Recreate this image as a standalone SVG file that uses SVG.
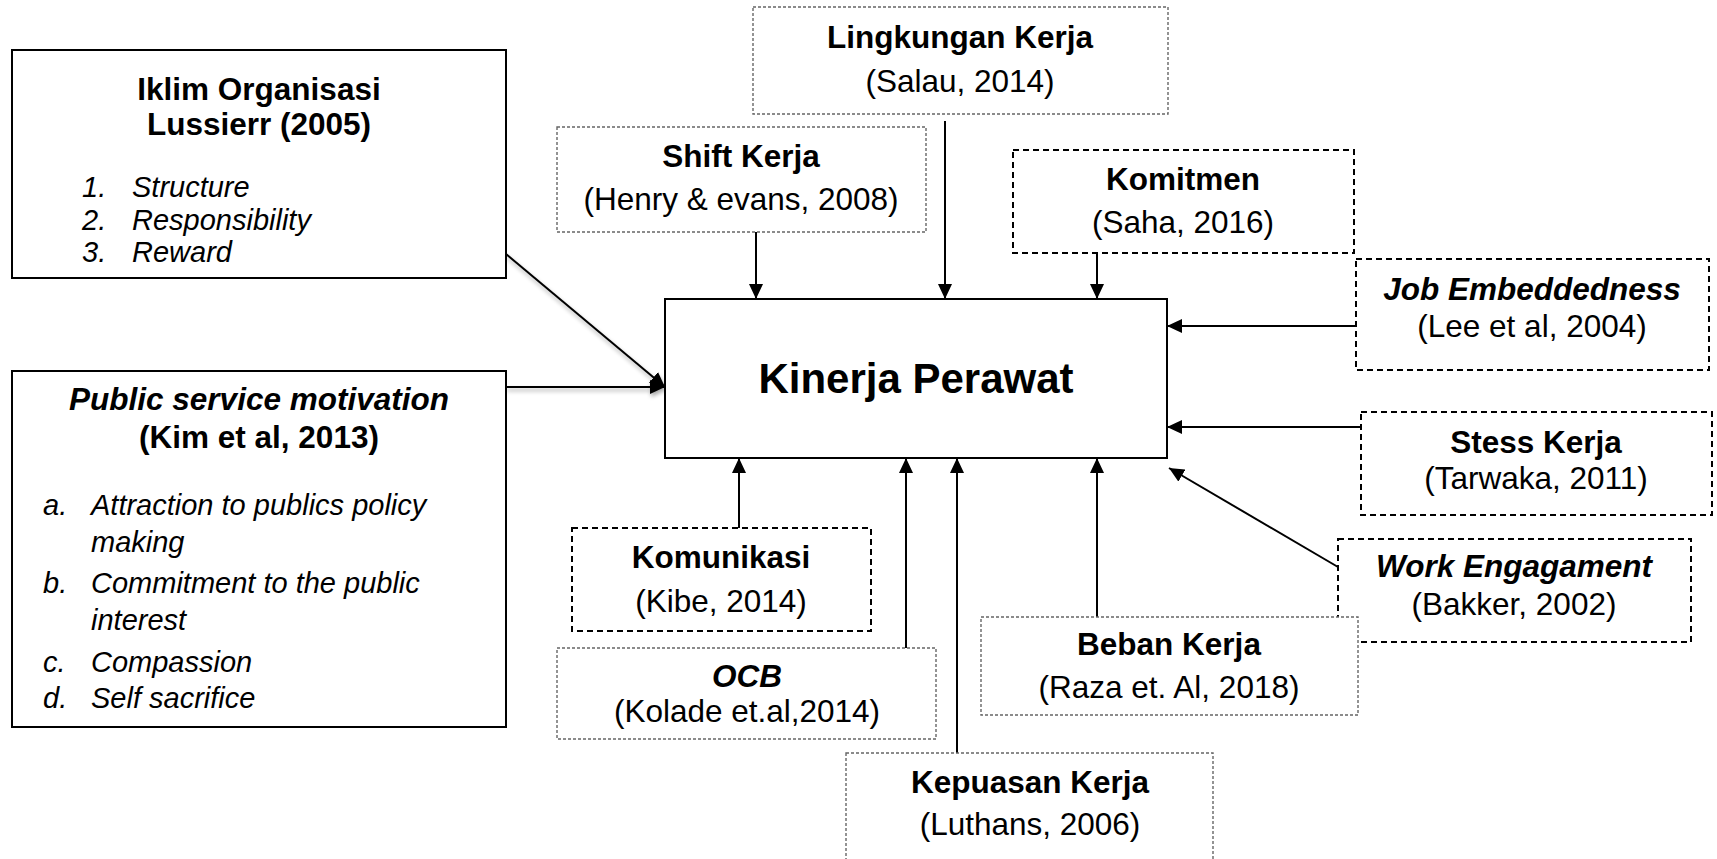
<svg xmlns="http://www.w3.org/2000/svg" width="1717" height="859" viewBox="0 0 1717 859">
<defs>
<marker id="ah" markerUnits="userSpaceOnUse" markerWidth="16" markerHeight="14" refX="15" refY="7" orient="auto">
<path d="M0,0 L15,7 L0,14 z" fill="#000"/>
</marker>
<filter id="sh" x="-10%" y="-10%" width="130%" height="130%">
<feGaussianBlur in="SourceAlpha" stdDeviation="2"/>
<feOffset dx="1" dy="3" result="b"/>
<feComponentTransfer><feFuncA type="linear" slope="0.35"/></feComponentTransfer>
<feMerge><feMergeNode/><feMergeNode in="SourceGraphic"/></feMerge>
</filter>
<style>
text{font-family:"Liberation Sans",Arial,sans-serif;fill:#000;}
.t{font-size:31.5px;font-weight:bold;text-anchor:middle;}
.ti{font-size:31.5px;font-weight:bold;font-style:italic;text-anchor:middle;}
.s{font-size:31.5px;text-anchor:middle;}
.li{font-size:29px;font-style:italic;}
.solid{fill:#fff;stroke:#000;stroke-width:2;}
.dash{fill:#fff;stroke:#000;stroke-width:2;stroke-dasharray:6 4;}
.dot{fill:#fff;stroke:#666;stroke-width:1.4;stroke-dasharray:3 2;}
.c{stroke:#000;stroke-width:2;fill:none;marker-end:url(#ah);}
</style>
</defs>
<rect width="1717" height="859" fill="#fff"/>

<g id="connectors">
<g filter="url(#sh)">
<line class="c" x1="506" y1="254" x2="665" y2="387"/>
<line class="c" x1="506" y1="387" x2="665" y2="387"/>
</g>
<line class="c" x1="756" y1="232" x2="756" y2="299"/>
<line class="c" x1="945" y1="121" x2="945" y2="299"/>
<line class="c" x1="1097" y1="253" x2="1097" y2="299"/>
<line class="c" x1="1356" y1="326" x2="1167" y2="326"/>
<line class="c" x1="1361" y1="427" x2="1167" y2="427"/>
<line class="c" x1="1338" y1="567" x2="1169" y2="468"/>
<line class="c" x1="1097" y1="617" x2="1097" y2="458"/>
<line class="c" x1="957" y1="753" x2="957" y2="458"/>
<line class="c" x1="906" y1="648" x2="906" y2="458"/>
<line class="c" x1="739" y1="528" x2="739" y2="458"/>
</g>

<g id="kinerja">
<rect class="solid" x="665" y="299" width="502" height="159"/>
<text x="916" y="393" style="font-size:42px;font-weight:bold;text-anchor:middle;">Kinerja Perawat</text>
</g>

<g id="iklim">
<rect class="solid" x="12" y="50" width="494" height="228"/>
<text class="t" x="259" y="100">Iklim Organisasi</text>
<text class="t" x="259" y="135">Lussierr (2005)</text>
<text class="li" x="82" y="197">1.</text><text class="li" x="132" y="197">Structure</text>
<text class="li" x="82" y="230">2.</text><text class="li" x="132" y="230">Responsibility</text>
<text class="li" x="82" y="262">3.</text><text class="li" x="132" y="262">Reward</text>
</g>

<g id="psm">
<rect class="solid" x="12" y="371" width="494" height="356"/>
<text class="ti" x="259" y="410">Public service motivation</text>
<text class="t" x="259" y="448">(Kim et al, 2013)</text>
<text class="li" x="43" y="515">a.</text><text class="li" x="91" y="515">Attraction to publics policy</text>
<text class="li" x="91" y="552">making</text>
<text class="li" x="43" y="593">b.</text><text class="li" x="91" y="593">Commitment to the public</text>
<text class="li" x="91" y="630">interest</text>
<text class="li" x="43" y="672">c.</text><text class="li" x="91" y="672">Compassion</text>
<text class="li" x="43" y="708">d.</text><text class="li" x="91" y="708">Self sacrifice</text>
</g>

<g id="lingkungan">
<rect class="dot" x="753" y="7" width="415" height="107"/>
<text class="t" x="960" y="48">Lingkungan Kerja</text>
<text class="s" x="960" y="92">(Salau, 2014)</text>
</g>

<g id="shift">
<rect class="dot" x="557" y="127" width="369" height="105"/>
<text class="t" x="741" y="167">Shift Kerja</text>
<text class="s" x="741" y="210">(Henry &amp; evans, 2008)</text>
</g>

<g id="komitmen">
<rect class="dash" x="1013" y="150" width="341" height="103"/>
<text class="t" x="1183" y="190">Komitmen</text>
<text class="s" x="1183" y="233">(Saha, 2016)</text>
</g>

<g id="job">
<rect class="dash" x="1356" y="259" width="353" height="111"/>
<text class="ti" x="1532" y="300">Job Embeddedness</text>
<text class="s" x="1532" y="337">(Lee et al, 2004)</text>
</g>

<g id="stess">
<rect class="dash" x="1361" y="412" width="351" height="103"/>
<text class="t" x="1536" y="453">Stess Kerja</text>
<text class="s" x="1536" y="489">(Tarwaka, 2011)</text>
</g>

<g id="work">
<rect class="dash" x="1338" y="539" width="353" height="103"/>
<text class="ti" x="1514" y="577">Work Engagament</text>
<text class="s" x="1514" y="615">(Bakker, 2002)</text>
</g>

<g id="beban">
<rect class="dot" x="981" y="617" width="377" height="98"/>
<text class="t" x="1169" y="655">Beban Kerja</text>
<text class="s" x="1169" y="698">(Raza et. Al, 2018)</text>
</g>

<g id="komunikasi">
<rect class="dash" x="572" y="528" width="299" height="103"/>
<text class="t" x="721" y="568">Komunikasi</text>
<text class="s" x="721" y="612">(Kibe, 2014)</text>
</g>

<g id="ocb">
<rect class="dot" x="557" y="648" width="379" height="91"/>
<text class="ti" x="747" y="687">OCB</text>
<text class="s" x="747" y="722">(Kolade et.al,2014)</text>
</g>

<g id="kepuasan">
<rect class="dot" x="846" y="753" width="367" height="112"/>
<text class="t" x="1030" y="793">Kepuasan Kerja</text>
<text class="s" x="1030" y="835">(Luthans, 2006)</text>
</g>
</svg>
